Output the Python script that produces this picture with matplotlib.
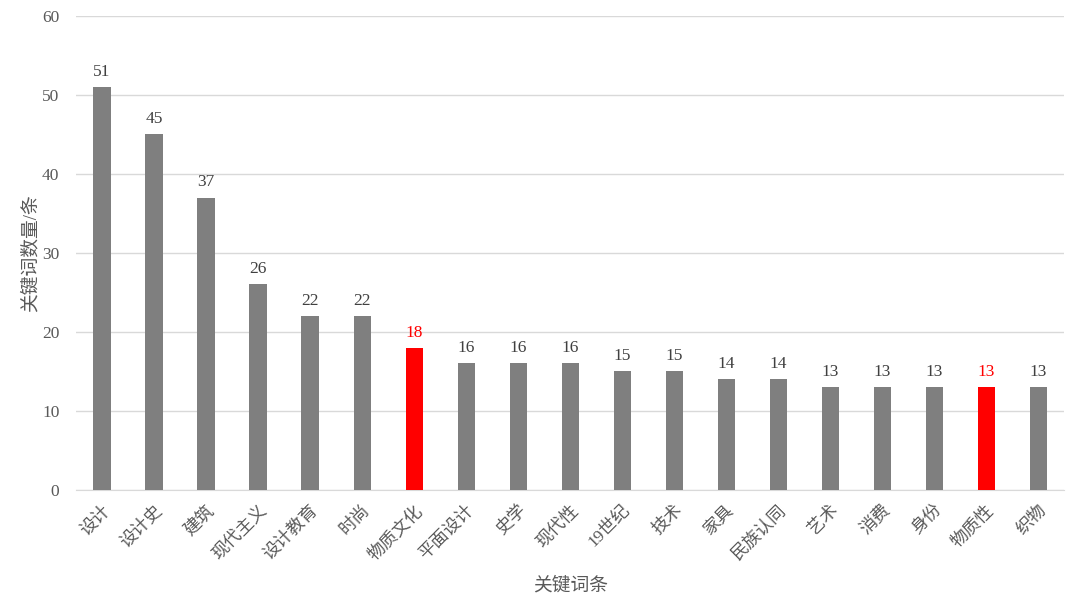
import matplotlib.pyplot as plt

plt.rcParams['font.family'] = ['Liberation Serif', 'Noto Sans CJK SC', 'DejaVu Sans']

# keyword counts
keywords = ['设计', '设计史', '建筑', '现代主义', '设计教育', '时尚', '物质文化', '平面设计',
            '史学', '现代性', '19世纪', '技术', '家具', '民族认同', '艺术', '消费', '身份',
            '物质性', '织物']
counts = [51, 45, 37, 26, 22, 22, 18, 16, 16, 16, 15, 15, 14, 14, 13, 13, 13, 13, 13]
highlight = ['物质文化', '物质性']

gray = '#7f7f7f'
red = '#ff0000'
text_gray = '#595959'

fig = plt.figure(figsize=(10.8, 6.07), dpi=100)
ax = fig.add_axes([0.0704, 0.193, 0.915, 0.781])

colors = [red if k in highlight else gray for k in keywords]
x = range(len(keywords))
bars = ax.bar(x, counts, width=0.33, color=colors, zorder=3)

for i, (b, v) in enumerate(zip(bars, counts)):
    c = red if keywords[i] in highlight else '#404040'
    ax.text(b.get_x() + b.get_width() / 2, v + 0.9, str(v), ha='center', va='bottom',
            fontsize=12.5, color=c)

ax.set_xlim(-0.5, len(keywords) - 0.5)
ax.set_ylim(0, 60)
ax.set_yticks(range(0, 61, 10))
ax.yaxis.grid(True, color='#d9d9d9', linewidth=1, zorder=0)
for s in ['top', 'right', 'left']:
    ax.spines[s].set_visible(False)
ax.spines['bottom'].set_color('#d9d9d9')
ax.tick_params(axis='both', length=0, colors=text_gray, labelsize=12.5)
ax.tick_params(axis='y', pad=12)

ax.set_xticks(list(x))
ax.set_xticklabels(keywords, rotation=45, ha='right', rotation_mode='anchor')
ax.tick_params(axis='x', pad=9)

ax.set_ylabel('关键词数量/条', fontsize=13.5, color=text_gray, labelpad=2)
ax.set_xlabel('关键词条', fontsize=13.5, color=text_gray, labelpad=10)

plt.savefig('out.png', dpi=100)
